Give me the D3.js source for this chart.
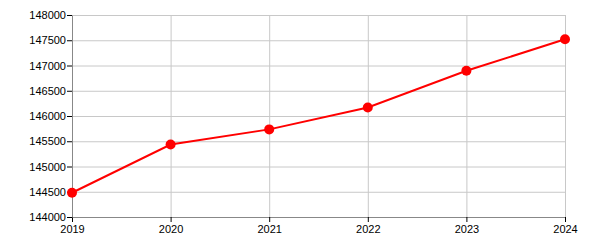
<!DOCTYPE html>
<html>
<head>
<meta charset="utf-8">
<script src="https://cdn.jsdelivr.net/npm/d3@7"></script>
<style>
  body { margin: 0; background: #fff; }
  .axis text { font-family: "Liberation Sans", Arial, sans-serif; font-size: 11px; fill: #000; }
  .grid line { stroke: #c8c8c8; stroke-width: 1; }
  .grid .domain { display: none; }
</style>
</head>
<body>
<div id="chart"></div>
<script>
// Data
const years = [2019, 2020, 2021, 2022, 2023, 2024];
const values = [144480, 145435, 145735, 146170, 146895, 147520];
const yTicks = [144000, 144500, 145000, 145500, 146000, 146500, 147000, 147500, 148000];

const width = 600;
const height = 250;
const margin = { top: 15, right: 35, bottom: 33, left: 72 };

const svg = d3.select('#chart').append('svg')
  .attr('width', width)
  .attr('height', height);

const x = d3.scaleLinear()
  .domain([years[0], years[years.length - 1]])
  .range([margin.left, width - margin.right]);

const y = d3.scaleLinear()
  .domain([144000, 148000])
  .range([height - margin.bottom, margin.top]);

// Gridlines
svg.append('g')
  .attr('class', 'grid')
  .attr('transform', `translate(0,${height - margin.bottom})`)
  .call(d3.axisBottom(x).tickValues(years).tickSize(-(height - margin.top - margin.bottom)).tickFormat(''));

svg.append('g')
  .attr('class', 'grid')
  .attr('transform', `translate(${margin.left},0)`)
  .call(d3.axisLeft(y).tickValues(yTicks).tickSize(-(width - margin.left - margin.right)).tickFormat(''));

// Axes
const xAxis = svg.append('g')
  .attr('class', 'axis')
  .attr('transform', `translate(0,${height - margin.bottom})`)
  .call(d3.axisBottom(x).tickValues(years).tickFormat(d3.format('d')).tickSize(5).tickSizeOuter(0));

const yAxis = svg.append('g')
  .attr('class', 'axis')
  .attr('transform', `translate(${margin.left},0)`)
  .call(d3.axisLeft(y).tickValues(yTicks).tickFormat(d3.format('d')).tickSize(5).tickSizeOuter(0));

svg.selectAll('.axis .domain').attr('stroke', '#888');
svg.selectAll('.axis .tick line').attr('stroke', '#000');
yAxis.selectAll('text').attr('x', -6);
xAxis.selectAll('text').attr('y', 8);

// Line
const line = d3.line()
  .x((d, i) => x(years[i]))
  .y(d => y(d));

svg.append('path')
  .datum(values)
  .attr('fill', 'none')
  .attr('stroke', '#ff0000')
  .attr('stroke-width', 2)
  .attr('d', line);

svg.append('g')
  .selectAll('circle')
  .data(values)
  .join('circle')
  .attr('cx', (d, i) => x(years[i]))
  .attr('cy', d => y(d))
  .attr('r', 5)
  .attr('fill', '#ff0000');
</script>
</body>
</html>
